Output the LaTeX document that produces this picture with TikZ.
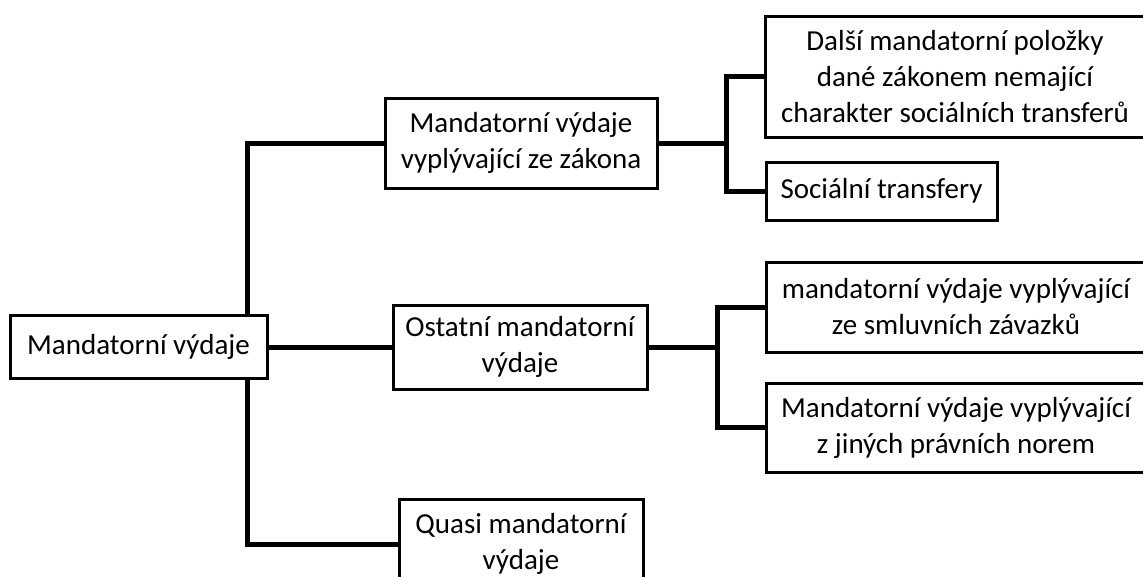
\documentclass[tikz,border=0pt]{standalone}
\usepackage{fontspec}
\setmainfont{Carlito}
\usetikzlibrary{backgrounds}

\begin{document}
\begin{tikzpicture}[x=1pt,y=-1pt,
  box/.style={draw,line width=3pt,fill=white,align=center,inner sep=0pt,
    font=\fontsize{29}{36}\selectfont},
  link/.style={line width=5pt}]
\useasboundingbox (0,0) rectangle (1143,576);
\clip (0,0) rectangle (1143,576);

\node[box,minimum width=257,minimum height=63] (root) at (138.5,347) {Mandatorní výdaje};

\node[box,minimum width=272,minimum height=90] (zakon) at (521,143) {Mandatorní výdaje\\vyplývající ze zákona};
\node[box,minimum width=254,minimum height=84] (ostatni) at (520,347) {Ostatní mandatorní\\výdaje};
\node[box,minimum width=244,minimum height=90] (quasi) at (521,544) {Quasi mandatorní\\výdaje};

\node[box,minimum width=380,minimum height=121] (dalsi) at (955,76.5) {Další mandatorní položky\\dané zákonem nemající\\charakter sociálních transferů};
\node[box,minimum width=231,minimum height=58] (socialni) at (881.5,191) {Sociální transfery};

\node[box,minimum width=380,minimum height=90] (smluvni) at (956,307) {mandatorní výdaje vyplývající\\ze smluvních závazků};
\node[box,minimum width=380,minimum height=89] (normy) at (956,427.5) {Mandatorní výdaje vyplývající\\z jiných právních norem};

\coordinate (rootfork) at (247,347);
\coordinate (zakonfork) at (726,143);
\coordinate (ostatnifork) at (717,347);

\begin{pgfonlayer}{background}
\draw[link] (zakon.west) -| (rootfork) |- (quasi.west);
\draw[link] (root.east) -- (ostatni.west);
\draw[link] (zakon.east) -- (zakonfork);
\draw[link] (dalsi.west) -| (zakonfork) |- (socialni.west);
\draw[link] (ostatni.east) -- (ostatnifork);
\draw[link] (smluvni.west) -| (ostatnifork) |- (normy.west);
\end{pgfonlayer}
\end{tikzpicture}
\end{document}
